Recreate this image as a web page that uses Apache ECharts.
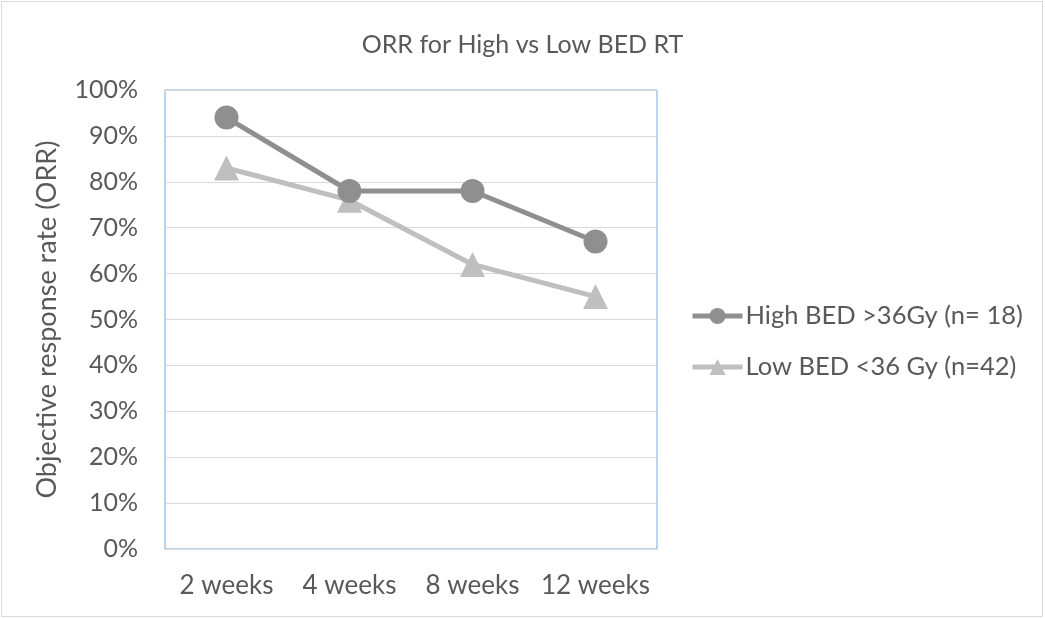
<!DOCTYPE html>
<html><head><meta charset="utf-8">
<script src="https://cdn.jsdelivr.net/npm/echarts@6/dist/echarts.min.js"></script>
<style>html,body{margin:0;padding:0;background:#fff}#c{width:1045px;height:619px}</style>
</head><body><div id="c"></div>
<script>
const categories = ['2 weeks', '4 weeks', '8 weeks', '12 weeks'];
const highBED = [94, 78, 78, 67];
const lowBED = [83, 76, 62, 55];
const seriesNames = ['High BED >36Gy (n= 18)', 'Low BED <36 Gy (n=42)'];
const titleText = 'ORR for High vs Low BED RT';
const yAxisName = 'Objective response rate (ORR)';

const font = 'Lato, "Open Sans", sans-serif';
const chart = echarts.init(document.getElementById('c'));
chart.setOption({
  animation: false,
  backgroundColor: '#fff',
  graphic: [{ type: 'rect', shape: { x: 1.5, y: 1.5, width: 1041, height: 615 }, style: { fill: 'none', stroke: '#d9d9d9', lineWidth: 1 }, silent: true }],
  title: { text: titleText, left: 'center', top: 27, textStyle: { color: '#595959', fontSize: 25, fontWeight: 'normal', fontFamily: font } },
  grid: { left: 165, top: 90, width: 492, height: 459, show: true, borderColor: '#7ba7d7', borderWidth: 1, containLabel: false },
  legend: {
    orient: 'vertical', left: 685, top: 298, itemGap: 25, itemWidth: 50, itemHeight: 20,
    lineStyle: { width: 5 },
    textStyle: { color: '#595959', fontSize: 25.5, fontFamily: font, padding: [0, 0, 0, -2] },
    data: seriesNames
  },
  xAxis: {
    type: 'category', data: categories, boundaryGap: true,
    axisLine: { show: true, lineStyle: { color: '#d9d9d9', width: 1 } },
    axisTick: { show: false },
    axisLabel: { color: '#595959', fontSize: 26, fontFamily: font, margin: 24, interval: 0 }
  },
  yAxis: {
    type: 'value', min: 0, max: 100, interval: 10,
    name: yAxisName, nameLocation: 'middle', nameGap: 104,
    nameTextStyle: { color: '#595959', fontSize: 27, fontFamily: font },
    axisLine: { show: false }, axisTick: { show: false },
    axisLabel: { color: '#595959', fontSize: 25, fontFamily: font, margin: 27, formatter: v => v + '%' },
    splitLine: { lineStyle: { color: '#d9d9d9', width: 1 } }
  },
  series: [
    { name: seriesNames[0], type: 'line', data: highBED, symbol: 'circle', symbolSize: 24,
      lineStyle: { color: '#8f8f8f', width: 5 }, itemStyle: { color: '#8f8f8f' }, z: 3 },
    { name: seriesNames[1], type: 'line', data: lowBED, symbol: 'triangle', symbolSize: 25,
      lineStyle: { color: '#bfbfbf', width: 5 }, itemStyle: { color: '#bfbfbf' }, z: 2 }
  ]
});
</script></body></html>
